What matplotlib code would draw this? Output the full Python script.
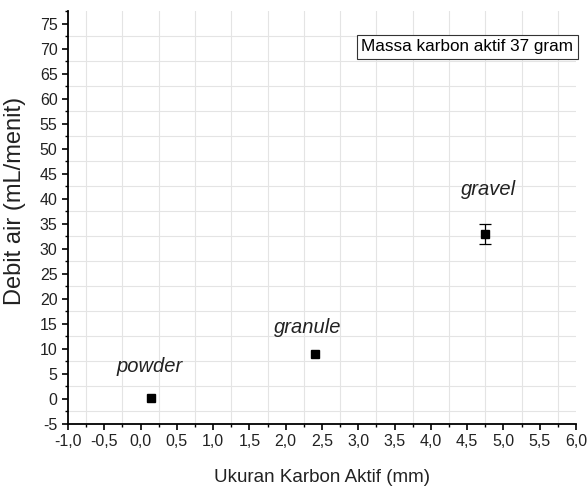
import matplotlib.pyplot as plt
from matplotlib.ticker import MultipleLocator, FuncFormatter
import numpy as np

plt.rcParams['font.family'] = ['Liberation Sans', 'DejaVu Sans']
plt.rcParams['axes.unicode_minus'] = False

# data
ukuran = [0.15, 2.4, 4.75]          # mm
debit = [0.1, 9.0, 33.0]            # mL/menit
galat = [0.0, 0.0, 2.0]
nama = ['powder', 'granule', 'gravel']
label_x = [0.13, 2.31, 4.79]
label_y = [6.4, 14.2, 41.8]

fig = plt.figure(figsize=(5.88, 4.86), dpi=100)
ax = fig.add_axes([0.1156, 0.1276, 0.864, 0.849])

ax.plot(ukuran, debit, 's', color='black', ms=6, zorder=3)
# only gravel has a visible error bar
err_x = [x for x, e in zip(ukuran, galat) if e > 0]
err_y = [y for y, e in zip(debit, galat) if e > 0]
err_e = [e for e in galat if e > 0]
ax.errorbar(err_x, err_y, yerr=err_e, fmt='none', ecolor='black',
            elinewidth=0.9, capsize=4, capthick=0.9, zorder=3)

for x, y, s in zip(label_x, label_y, nama):
    ax.text(x, y, s, fontsize=14.5, style='italic', ha='center', va='center',
            color='#222222')

ax.text(5.965, 70.4, 'Massa karbon aktif 37 gram', fontsize=12.3, ha='right',
        va='center', bbox=dict(boxstyle='square,pad=0.25', fc='white',
                               ec='#333333', lw=0.8))

ax.set_xlim(-1.0, 6.0)
ax.set_ylim(-5, 77.5)
ax.xaxis.set_major_locator(MultipleLocator(0.5))
ax.xaxis.set_minor_locator(MultipleLocator(0.25))
ax.yaxis.set_minor_locator(MultipleLocator(2.5))
ax.set_yticks(np.arange(-5, 76, 5))
ax.xaxis.set_major_formatter(FuncFormatter(lambda v, p: f'{v:.1f}'.replace('.', ',')))

# grid only at minor positions (between major ticks)
for gx in np.arange(-0.75, 6.0, 0.5):
    ax.axvline(gx, color='#e4e4e4', lw=0.8, zorder=0)
for gy in np.arange(-2.5, 77.5, 5):
    ax.axhline(gy, color='#e4e4e4', lw=0.8, zorder=0)

ax.spines['top'].set_visible(False)
ax.spines['right'].set_visible(False)
ax.spines['left'].set_linewidth(1.3)
ax.spines['bottom'].set_linewidth(1.3)
ax.tick_params(which='major', direction='out', length=4.5, width=1.2,
               labelsize=11.5, colors='black', labelcolor='#222222', pad=3)
ax.tick_params(which='minor', direction='out', length=2.5, width=1.0)

ax.set_xlabel('Ukuran Karbon Aktif (mm)', fontsize=13.5, labelpad=14, color='#222222')
ax.set_ylabel('Debit air (mL/menit)', fontsize=17, color='#222222')
ax.yaxis.set_label_coords(-0.083, 0.54)

fig.savefig('out.png', dpi=100)
